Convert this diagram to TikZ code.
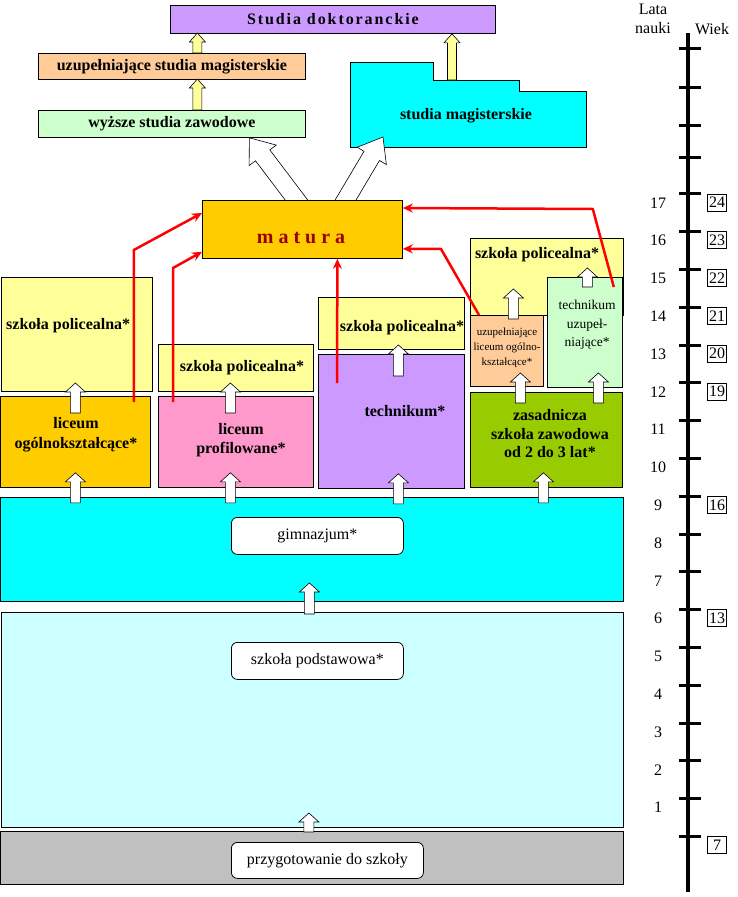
\documentclass[tikz,border=0pt]{standalone}
\usepackage{fontspec}
\setmainfont{Liberation Serif}
\usepackage{xcolor}
\usetikzlibrary{arrows.meta,calc,positioning}
\definecolor{zolty}{HTML}{FFFF99}
\definecolor{brzoskw}{HTML}{FFCC99}
\definecolor{jzielony}{HTML}{CCFFCC}
\definecolor{turkus}{HTML}{00FFFF}
\definecolor{zloty}{HTML}{FFCC00}
\definecolor{rozowy}{HTML}{FF99CC}
\definecolor{fiolet}{HTML}{CC99FF}
\definecolor{oliwka}{HTML}{99CC00}
\definecolor{jturkus}{HTML}{CCFFFF}
\definecolor{szary}{HTML}{C0C0C0}
\definecolor{bordo}{HTML}{990000}
% block arrow: [fill]{from}{to}{half shaft}{half head}{head length}
\newcommand{\blokstrz}[6][white]{%
\path (#2) coordinate (ba) (#3) coordinate (bb);
\path ($(bb)!#6!(ba)$) coordinate (bh);
\filldraw[fill=#1,line width=0.6pt] ($(ba)!#4!90:(bb)$) -- ($(bh)!#4!90:(bb)$) -- ($(bh)!#5!90:(bb)$) -- (bb)
 -- ($(bh)!#5!-90:(bb)$) -- ($(bh)!#4!-90:(bb)$) -- ($(ba)!#4!-90:(bb)$) -- cycle;}

\begin{document}
\begin{tikzpicture}[x=1pt,y=-1pt,
box/.style={draw,line width=0.8pt,inner sep=0pt,anchor=north west,align=center,font=\fontsize{16}{18.5}\selectfont\bfseries},
biala/.style={draw,fill=white,rounded corners=6pt,line width=0.8pt,inner sep=0pt,anchor=north west,font=\fontsize{16}{18.5}\selectfont},
napis/.style={align=center,inner sep=0pt,font=\fontsize{16}{18.5}\selectfont\bfseries},
czerw/.style={-{Stealth[length=10pt,width=9pt]},red,line width=2.5pt},
kreska/.style={line width=3pt},
rok/.style={inner sep=0pt,font=\fontsize{16}{19}\selectfont},
wiek/.style={draw,line width=0.6pt,inner sep=0pt,minimum width=19,minimum height=17,font=\fontsize{16}{18}\selectfont}]
\useasboundingbox (0,0) rectangle (737,897);
% studia
\filldraw[fill=turkus,line width=0.8pt](350,62)--(433,62)--(433,80)--(519,80)--(519,91)--(586,91)--(586,147)--(350,147)--cycle;
\coordinate (magtop) at (452,80);
\coordinate (magbl) at (383,137);
\node[napis] (mag) at (466,116) {studia magisterskie};
\node[box,fill=fiolet,minimum width=325,minimum height=28] (dokt) at (170,5) {\addfontfeature{LetterSpace=12}Studia doktoranckie};
\node[box,fill=brzoskw,minimum width=267,minimum height=26] (usm) at (38,53) {uzupełniające studia magisterskie};
\node[box,fill=jzielony,minimum width=267,minimum height=27] (wsz) at (38,110) {wyższe studia zawodowe};
\blokstrz[zolty]{$(usm.north)+(25.5,0)$}{$(usm.north)+(25.5,-20)$}{4.5pt}{8pt}{9pt}
\blokstrz[zolty]{$(wsz.north)+(25.5,0)$}{$(wsz.north)+(25.5,-31)$}{4.5pt}{8pt}{9pt}
\blokstrz[zolty]{magtop}{magtop |- dokt.south}{4.5pt}{8pt}{9pt}
% matura
\coordinate (mtop) at (302,200);
\blokstrz{$(mtop)+(-1,6)$}{$(wsz.south)+(77.5,0)$}{9pt}{17pt}{22pt}
\blokstrz{$(mtop)+(40,6)$}{magbl}{9pt}{17pt}{22pt}
\node[box,fill=zloty,minimum width=200,minimum height=58] (mat) at (202,200) {};
\node[napis,text=bordo,font=\fontsize{20}{22}\selectfont\bfseries] (matt) at (301,238) {m a t u r a};
% szkoly srednie
\node[box,fill=zolty,minimum width=151,minimum height=114] (pol1) at (1,277) {};
\node[napis,anchor=west] (pol1t) at (6,326) {szkoła policealna*};
\node[box,fill=zloty,minimum width=150,minimum height=91] (lo) at (0,396) {};
\node[napis,font=\fontsize{16}{20}\selectfont\bfseries] (lot) at (76,435) {liceum\\ogólnokształcące*};
\node[box,fill=zolty,minimum width=155,minimum height=47] (pol2) at (158,344) {};
\node[napis] (pol2t) at (242,368) {szkoła policealna*};
\node[box,fill=rozowy,minimum width=155,minimum height=91] (lp) at (158,396) {};
\node[napis,font=\fontsize{16}{19}\selectfont\bfseries] (lpt) at (241,440) {liceum\\profilowane*};
\node[box,fill=zolty,minimum width=146,minimum height=52] (pol3) at (318,297) {};
\node[napis] (pol3t) at (402,328) {szkoła policealna*};
\node[box,fill=fiolet,minimum width=146,minimum height=134] (tech) at (318,354) {};
\node[napis] (techt) at (405,411) {technikum*};
\node[box,fill=zolty,minimum width=153,minimum height=77] (pol4) at (470,238) {};
\node[napis] (pol4t) at (537,255) {szkoła policealna*};
\node[box,fill=brzoskw,minimum width=73,minimum height=71] (ulo) at (470,315) {};
\node[napis,font=\fontsize{11}{15}\selectfont] (ulot) at (507,348) {uzupełniające\\liceum ogólno-\\kształcące*};
\node[box,fill=jzielony,minimum width=75,minimum height=110] (tu) at (547,277) {};
\node[napis,font=\fontsize{13.5}{18.5}\selectfont] (tut) at (587,325) {technikum\\uzupeł-\\niające*};
\node[box,fill=oliwka,minimum width=152,minimum height=95] (zsz) at (470,392) {};
\node[napis] (zszt) at (550,434) {zasadnicza\\szkoła zawodowa\\od 2 do 3 lat*};
% gimnazjum, podstawowa
\node[box,fill=turkus,minimum width=623,minimum height=104] (gim) at (0,497) {};
\node[biala,minimum width=172,minimum height=37] (gimt) at (231,517) {gimnazjum*};
\node[box,fill=jturkus,minimum width=622,minimum height=215] (pods) at (1,612) {};
\node[biala,minimum width=172,minimum height=37] (podst) at (231,642) {szkoła podstawowa*};
\node[box,fill=szary,minimum width=623,minimum height=53] (przyg) at (0,831) {};
\node[biala,minimum width=192,minimum height=36] (przygt) at (231,842) {przygotowanie do szkoły};
% strzalki
\foreach \n/\dx in {lo/0,lp/-5.5,tech/7,zsz/-3}
 \blokstrz{$(\n.south)+(\dx,15)$}{$(\n.south)+(\dx,-15)$}{5pt}{10pt}{9pt};
\foreach \n/\dx/\ya/\yb in {lo/0/17/-13,lp/-5.5/17/-13,tech/7/22/-9,zsz/-26/11/-19,zsz/52/11/-19,ulo/6.5/4/-26,tu/2.5/10/-9,pods/-3/2/-29,przyg/-3/1/-18}
 \blokstrz{$(\n.north)+(\dx,\ya)$}{$(\n.north)+(\dx,\yb)$}{5pt}{10pt}{9pt};
\draw[czerw] ($(lo.north east)+(-17,6)$)--++(0,-152)--($(mat.north west)+(0,13)$);
\draw[czerw] ($(lp.north west)+(15,6)$)--++(0,-134)--($(mat.south west)+(0,-7)$);
\draw[czerw] ($(tech.north west)+(19,29)$)--($(mat.south)+(35,0)$);
\draw[czerw] ($(ulo.north west)+(9,0)$)--++(-38,-66)--($(mat.south east)+(0,-10)$);
\draw[czerw] ($(tu.north east)+(-9,10)$)--++(-21,-78)--($(mat.north east)+(0,8)$);
% skala
\node[rok,align=center] (lata) at (653,19) {Lata\\nauki};
\node[rok] (wiekt) at (712,29) {Wiek};
\draw[line width=3.5pt] (688,33)--(688,892);
\foreach \y in {48,87,125,157} \draw[kreska] (679,\y)--(701,\y);
\foreach \n in {0,...,17} \draw[kreska] (679,{836.5-37.8*\n})--(701,{836.5-37.8*\n});
\foreach \n in {1,...,17} \node[rok] (r\n) at (658,{836.5-37.8*\n+9}) {\n};
\foreach \n/\w in {0/7,6/13,9/16,12/19,13/20,14/21,15/22,16/23,17/24}
 \node[wiek] (w\n) at (717,{836.5-37.8*\n+8.5}) {\w};
\end{tikzpicture}
\end{document}
